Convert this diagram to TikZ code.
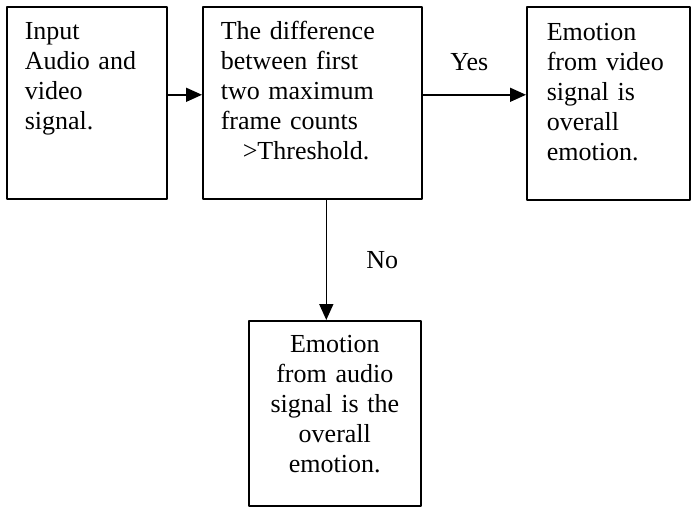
\documentclass[tikz,border=0pt]{standalone}
\usepackage{fontspec}
\setmainfont{Liberation Serif}
\usetikzlibrary{arrows.meta,positioning}
\begin{document}
\begin{tikzpicture}[line join=round, >={Triangle[length=16pt,width=14pt]}, x=1pt, y=-1pt,
            box/.style={draw, line width=1.6pt, anchor=north west, align=left, inner xsep=18pt, inner ysep=0pt,
                text height=33pt, text depth=159pt, font=\fontsize{26}{30}\selectfont},
            lbl/.style={font=\fontsize{26}{30}\selectfont},
            link/.style={->, line width=1.6pt}
            ]
            \useasboundingbox (0,0) rectangle (691,508);
            %Các khối
            \node[box, text width=124pt] (input) at (6,6) {Input\\Audio and\\video\\signal.};
            \node[box, text width=183pt] (diff) at (202,6) {The difference\\between first\\two maximum\\frame counts\\\hspace*{22pt}>Threshold.};
            \node[box, text width=123pt, inner xsep=20pt, text height=34pt] (video) at (526,6) {Emotion\\from video\\signal is\\overall\\emotion.};
            \node[box, align=center, text width=136pt, text height=32pt, text depth=153pt] (audio) at (248,320) {Emotion\\from audio\\signal is the\\overall\\emotion.};
            %Các mũi tên
            \draw[link] ([yshift=8pt]input.east) -- ([yshift=8pt]input.east -| diff.west);
            \draw[link] ([yshift=8pt]diff.east) -- ([yshift=8pt]diff.east -| video.west) node[lbl, midway, above=20pt, xshift=-5pt] (yes) {Yes};
            \draw[link] ([xshift=14pt]diff.south) -- ([xshift=14pt]diff.south |- audio.north) node[lbl, midway, right=36pt] (no) {No};
        \end{tikzpicture}
\end{document}
